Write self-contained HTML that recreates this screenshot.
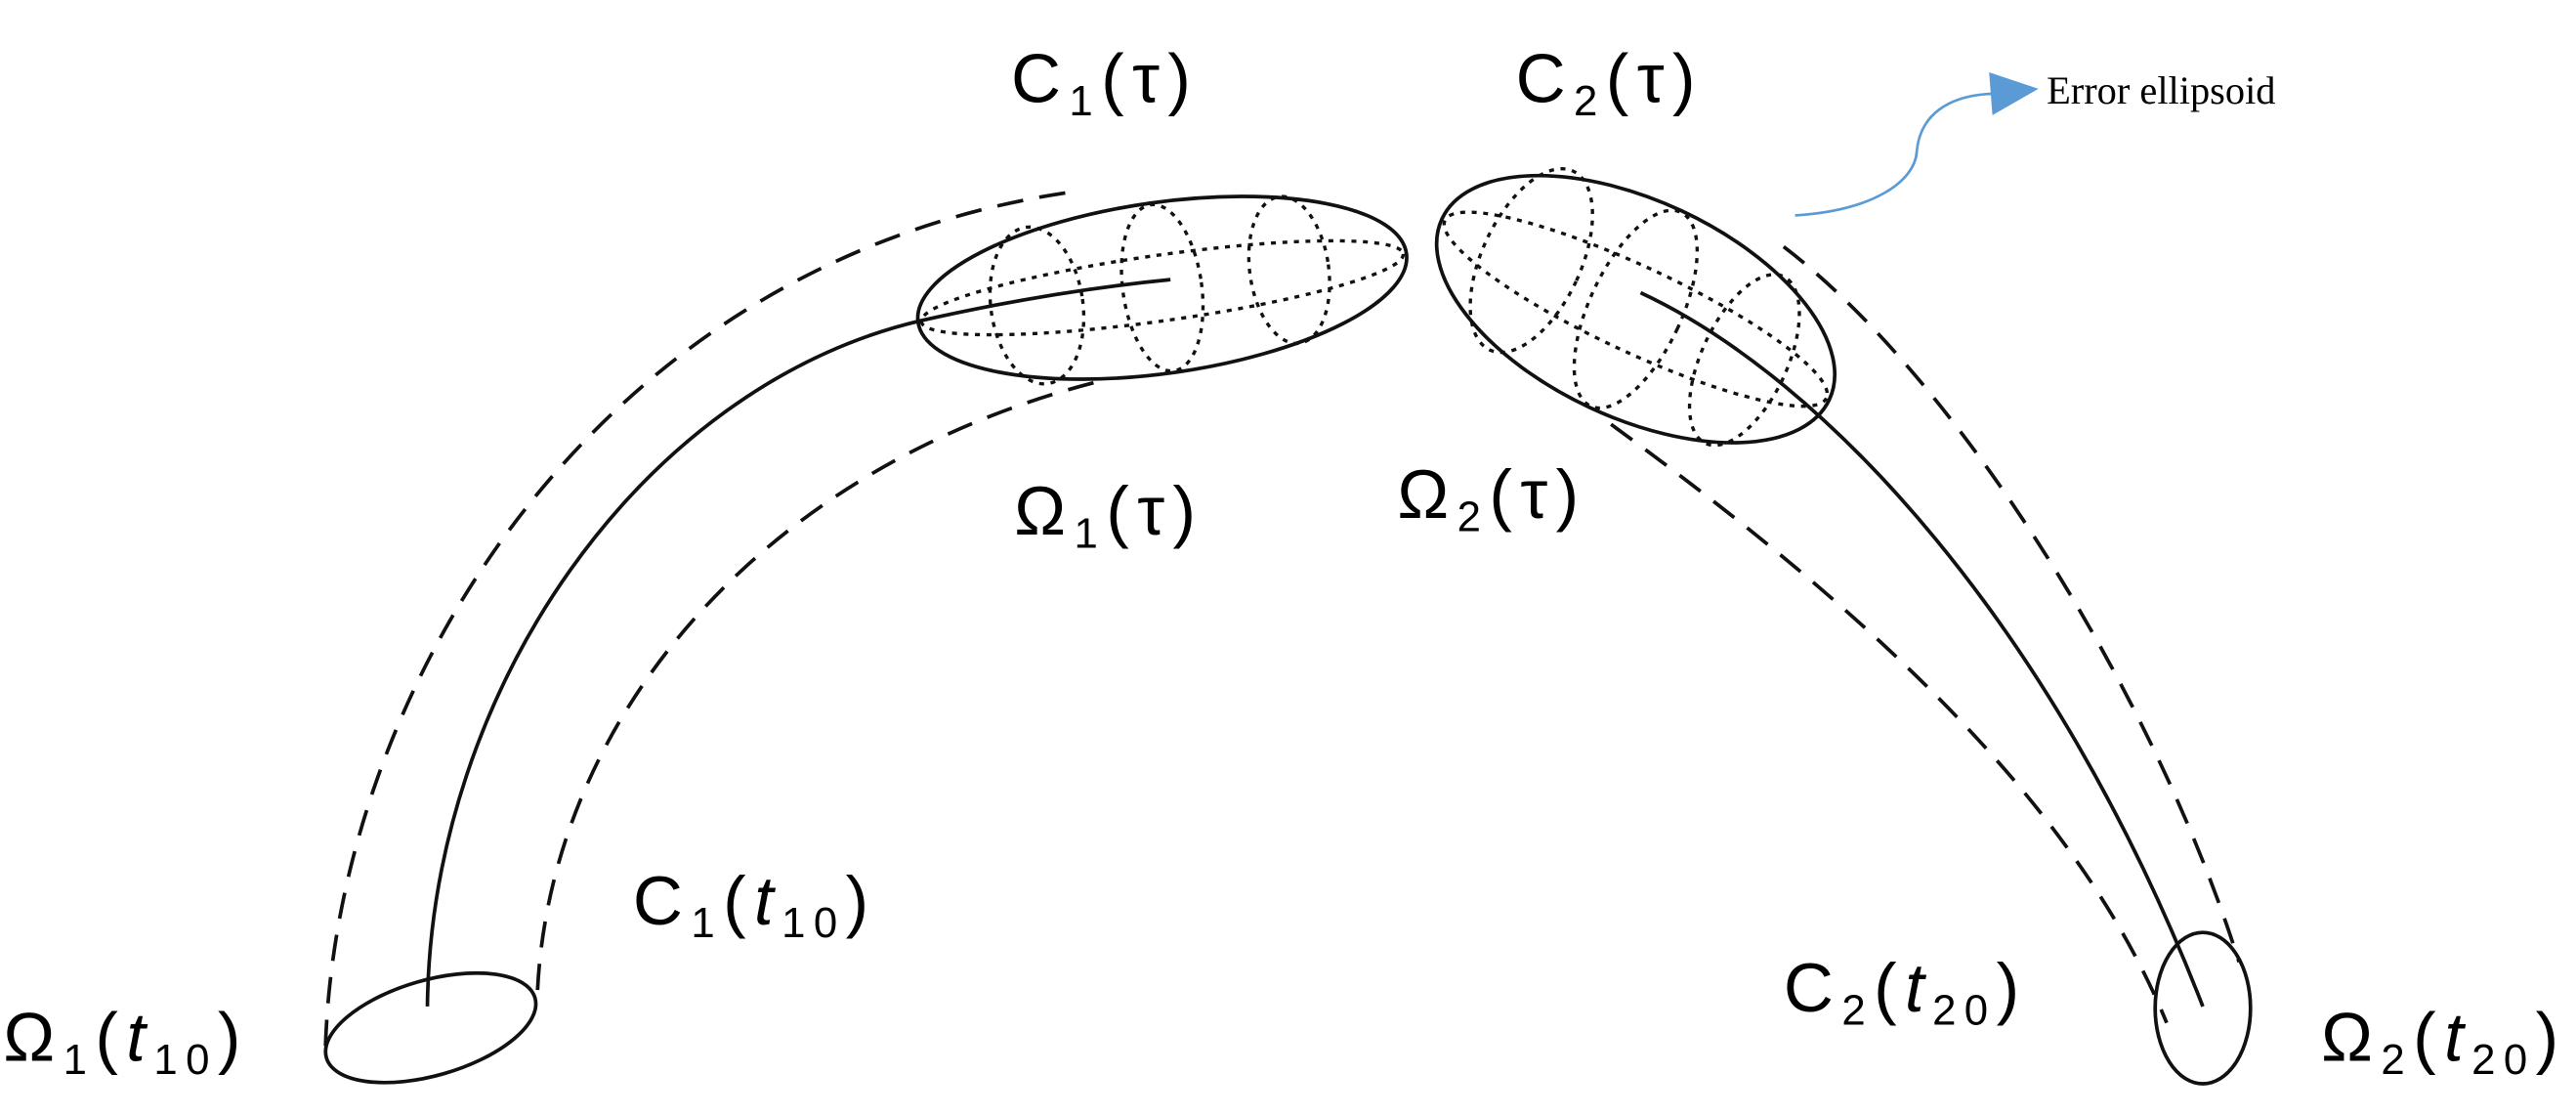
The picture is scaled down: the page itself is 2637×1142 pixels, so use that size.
<!DOCTYPE html>
<html><head><meta charset="utf-8"><style>
html,body{margin:0;padding:0;background:#fff;}
svg{display:block;}
text{font-family:"Liberation Sans","DejaVu Sans",sans-serif;fill:#000;}
</style></head><body>
<svg width="2637" height="1142" viewBox="0 0 1567 678.6" xmlns="http://www.w3.org/2000/svg">
<g fill="none" stroke="#111" stroke-width="2.2">
  <path d="M260,612 C262,420 390,235 560,195 Q640,177 712,170"/>
  <path d="M198,636 C205,420 360,160 650,117" stroke-dasharray="16,10"/>
  <path d="M327,602 C335,440 460,285 668,232" stroke-dasharray="16,10"/>
  <ellipse cx="262" cy="625" rx="66" ry="29" transform="rotate(-16 262 625)"/>
  <g transform="rotate(-8 707 175)">
    <ellipse cx="707" cy="175" rx="150" ry="52"/>
    <g stroke-dasharray="3,4" stroke-width="2">
      <ellipse cx="707" cy="175" rx="148" ry="20"/>
      <ellipse cx="630" cy="175" rx="28" ry="48"/>
      <ellipse cx="707" cy="175" rx="24" ry="51"/>
      <ellipse cx="785" cy="175" rx="24" ry="45"/>
    </g>
  </g>
  <path d="M998,178 C1110,230 1250,380 1340,612"/>
  <path d="M1085,150 C1190,230 1310,420 1362,585" stroke-dasharray="16,10"/>
  <path d="M980,258 C1120,360 1260,480 1318,622" stroke-dasharray="16,10"/>
  <ellipse cx="1340" cy="613" rx="29" ry="46"/>
  <g transform="rotate(25 995 188)">
    <ellipse cx="995" cy="188" rx="130" ry="66"/>
    <g stroke-dasharray="3,4" stroke-width="2">
      <ellipse cx="995" cy="188" rx="128" ry="26"/>
      <ellipse cx="925" cy="188" rx="30" ry="60"/>
      <ellipse cx="995" cy="188" rx="28" ry="65"/>
      <ellipse cx="1068" cy="188" rx="26" ry="56"/>
    </g>
  </g>
  <path d="M1092,131 C1140,128 1165,110 1166,92 C1168,70 1185,58 1212,57" stroke="#5b9bd5" stroke-width="1.6"/>
</g>
<polygon points="1210,44 1240,54 1212,70" fill="#5b9bd5"/>
<text x="1245" y="63" style="font-family:'Liberation Serif',serif;font-size:24px">Error ellipsoid</text>
<g font-size="42" letter-spacing="5">
<text x="615" y="62">C<tspan font-size="26" dy="8">1</tspan><tspan dy="-8">(τ)</tspan></text>
<text x="922" y="62">C<tspan font-size="26" dy="8">2</tspan><tspan dy="-8">(τ)</tspan></text>
<text x="617" y="325">Ω<tspan font-size="26" dy="8">1</tspan><tspan dy="-8">(τ)</tspan></text>
<text x="850" y="315">Ω<tspan font-size="26" dy="8">2</tspan><tspan dy="-8">(τ)</tspan></text>
<text x="385" y="562">C<tspan font-size="26" dy="8">1</tspan><tspan dy="-8">(</tspan><tspan font-style="italic">t</tspan><tspan font-size="26" dy="8">10</tspan><tspan dy="-8">)</tspan></text>
<text x="2" y="645">Ω<tspan font-size="26" dy="8">1</tspan><tspan dy="-8">(</tspan><tspan font-style="italic">t</tspan><tspan font-size="26" dy="8">10</tspan><tspan dy="-8">)</tspan></text>
<text x="1085" y="615">C<tspan font-size="26" dy="8">2</tspan><tspan dy="-8">(</tspan><tspan font-style="italic">t</tspan><tspan font-size="26" dy="8">20</tspan><tspan dy="-8">)</tspan></text>
<text x="1412" y="645">Ω<tspan font-size="26" dy="8">2</tspan><tspan dy="-8">(</tspan><tspan font-style="italic">t</tspan><tspan font-size="26" dy="8">20</tspan><tspan dy="-8">)</tspan></text>
</g>
</svg>
</body></html>
